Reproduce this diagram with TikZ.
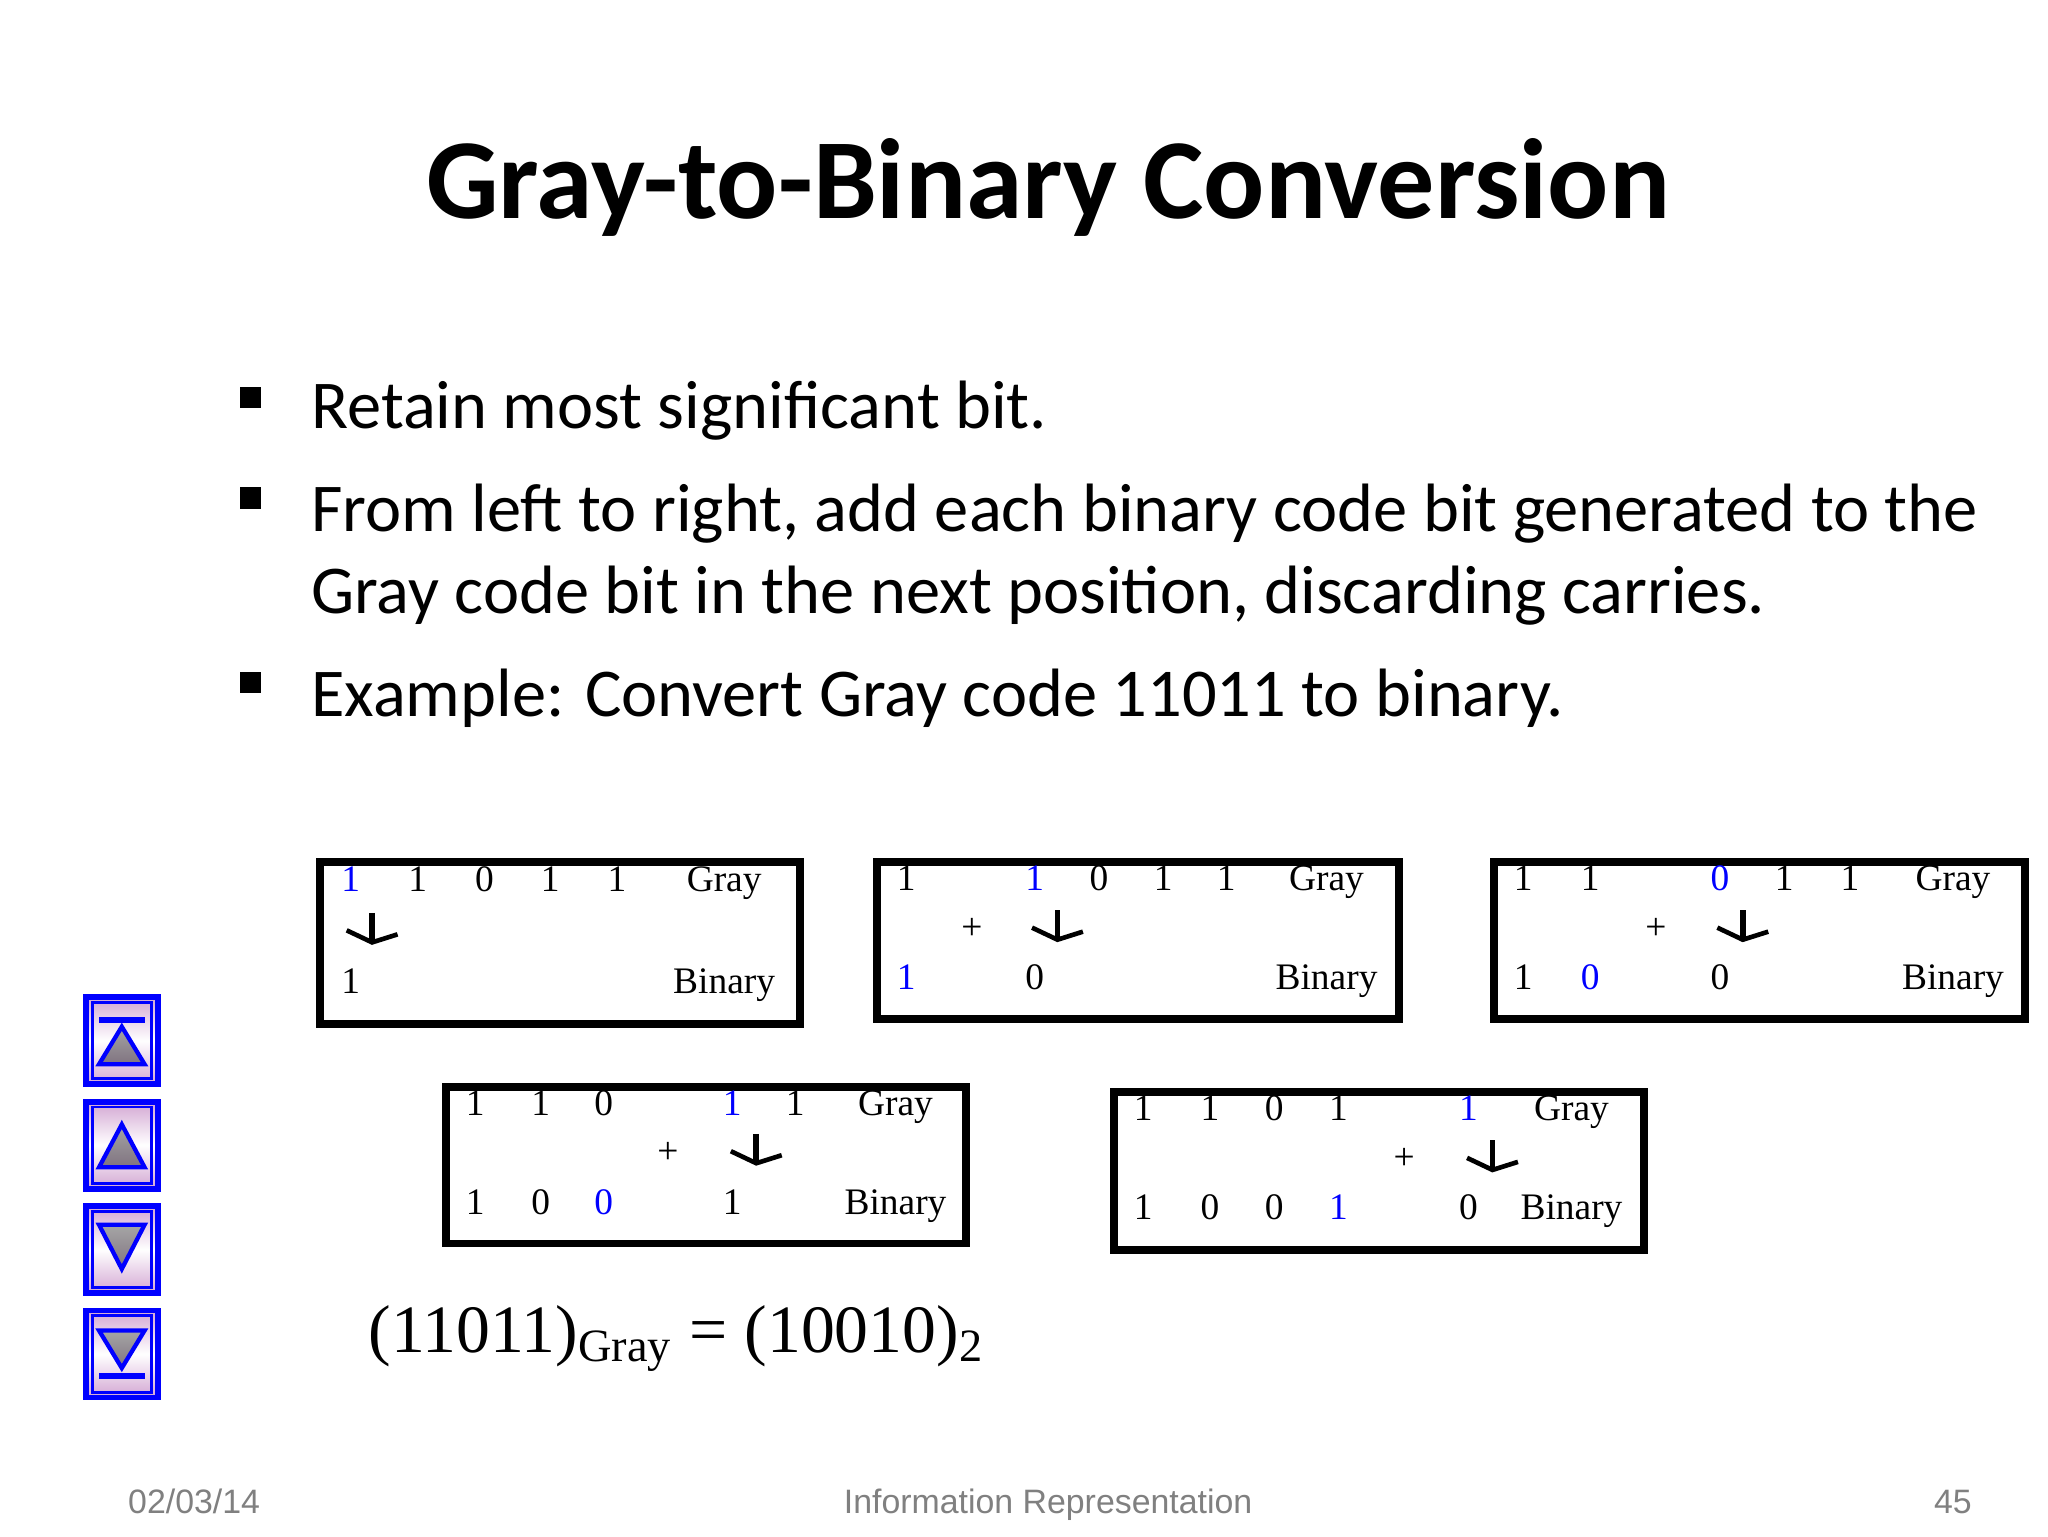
\documentclass[tikz,border=0pt]{standalone}
\usepackage{fontspec}
\setmainfont{Liberation Serif}
\newfontfamily\calfontx{Carlito}
\newfontfamily\arlfontx{Liberation Sans}
\begin{document}
\begin{tikzpicture}[x=0.0132cm,y=-0.0132cm,
  bx/.style={draw,line width=2.2pt},
  d/.style={font=\fontsize{10.5}{12}\selectfont,inner sep=0pt,text height=1.6ex,text depth=0.45ex},
  bl/.style={d,text=blue},
  btn/.style={draw=blue,line width=1.6pt,top color=violet!35,bottom color=violet!35,middle color=white},
  tri/.style={draw=blue,line width=1.2pt,top color=gray!70,bottom color=gray!90!violet},
  bul/.style={font=\calfontx\fontsize{19.2}{22}\selectfont,anchor=base west,inner sep=0pt}]
\useasboundingbox (0,0) rectangle (1530,1147.5);
\fill[white] (0,0) rectangle (1530,1147.5);
\node[font=\calfontx\bfseries\fontsize{32}{38}\selectfont] (title) at (783,140) {Gray-to-Binary Conversion};
\foreach \y in {297,372,510} \fill (179,\y-8) rectangle (195,\y+8);
\node[bul] (b1) at (232,320) {Retain most significant bit.};
\node[bul] (b2) at (232,397) {From left to right, add each binary code bit generated to the};
\node[bul] (b3) at (232,458) {Gray code bit in the next position, discarding carries.};
\node[bul] (b4) at (232,535) {Example: Convert Gray code 11011 to binary.};
\newcommand{\myarr}[2]{\draw[line width=1.6pt] (#1,#2-13) -- (#1,#2+9); \draw[line width=1.3pt] (#1-19,#2) -- (#1,#2+9) -- (#1+19,#2+3);}
% box1
\node[bx,minimum width=359*0.0132cm,minimum height=121*0.0132cm,anchor=north west] (B1) at (236,641) {};
\node[bl] at (262,659){1};\node[d] at (312,659){1};\node[d] at (362,659){0};\node[d] at (411,659){1};\node[d] at (461,659){1};\node[d] at (541,659){Gray};
\myarr{278}{695}
\node[d] at (262,735){1};\node[d] at (541,735){Binary};
% box2
\node[bx,minimum width=390*0.0132cm,minimum height=117*0.0132cm,anchor=north west] (B2) at (652,641) {};
\node[d] at (677,658){1};\node[bl] at (773,658){1};\node[d] at (821,658){0};\node[d] at (869,658){1};\node[d] at (916,658){1};\node[d] at (991,658){Gray};
\node[d] at (726,695){+};\myarr{790}{693}
\node[bl] at (677,732){1};\node[d] at (773,732){0};\node[d] at (991,732){Binary};
% box3
\node[bx,minimum width=397*0.0132cm,minimum height=117*0.0132cm,anchor=north west] (B3) at (1113,641) {};
\node[d] at (1138,658){1};\node[d] at (1188,658){1};\node[bl] at (1285,658){0};\node[d] at (1333,658){1};\node[d] at (1382,658){1};\node[d] at (1459,658){Gray};
\node[d] at (1237,695){+};\myarr{1302}{693}
\node[d] at (1138,732){1};\node[bl] at (1188,732){0};\node[d] at (1285,732){0};\node[d] at (1459,732){Binary};
% box4
\node[bx,minimum width=389*0.0132cm,minimum height=117*0.0132cm,anchor=north west] (B4) at (330,809) {};
\node[d] at (355,826){1};\node[d] at (404,826){1};\node[d] at (451,826){0};\node[bl] at (547,826){1};\node[d] at (594,826){1};\node[d] at (669,826){Gray};
\node[d] at (499,862){+};\myarr{565}{860}
\node[d] at (355,900){1};\node[d] at (404,900){0};\node[bl] at (451,900){0};\node[d] at (547,900){1};\node[d] at (669,900){Binary};
% box5
\node[bx,minimum width=396*0.0132cm,minimum height=118*0.0132cm,anchor=north west] (B5) at (829,813) {};
\node[d] at (854,830){1};\node[d] at (904,830){1};\node[d] at (952,830){0};\node[d] at (1000,830){1};\node[bl] at (1097,830){1};\node[d] at (1174,830){Gray};
\node[d] at (1049,867){+};\myarr{1115}{865}
\node[d] at (854,904){1};\node[d] at (904,904){0};\node[d] at (952,904){0};\node[bl] at (1000,904){1};\node[d] at (1097,904){0};\node[d] at (1174,904){Binary};
% formula
\node[anchor=west,inner sep=0pt,font=\fontsize{19}{22}\selectfont] (f) at (275,1000) {(11011)\textsubscript{\fontsize{13}{14}\selectfont Gray} = (10010)\textsubscript{\fontsize{13}{14}\selectfont 2}};
% buttons
\foreach \y in {745,823,901,979}{
  \draw[btn] (64,\y) rectangle (118,\y+65);
  \draw[blue,line width=0.8pt] (69,\y+4) rectangle (113,\y+61);
}
\draw[tri] (74,795) -- (91,767) -- (108,795) -- cycle; \fill[blue] (74,760) rectangle (108,764);
\draw[tri] (74,872) -- (91,840) -- (108,872) -- cycle;
\draw[tri] (74,915) -- (91,948) -- (108,915) -- cycle;
\draw[tri] (74,994) -- (91,1022) -- (108,994) -- cycle; \fill[blue] (74,1026) rectangle (108,1030);
% footer
\node[font=\arlfontx\fontsize{9.5}{11}\selectfont,text=gray,text height=1.6ex,text depth=0.4ex] (f1) at (145,1123) {02/03/14};
\node[font=\arlfontx\fontsize{9.5}{11}\selectfont,text=gray,text height=1.6ex,text depth=0.4ex] (f2) at (783,1123) {Information Representation};
\node[font=\arlfontx\fontsize{9.5}{11}\selectfont,text=gray,text height=1.6ex,text depth=0.4ex] (f3) at (1459,1123) {45};
\end{tikzpicture}
\end{document}
